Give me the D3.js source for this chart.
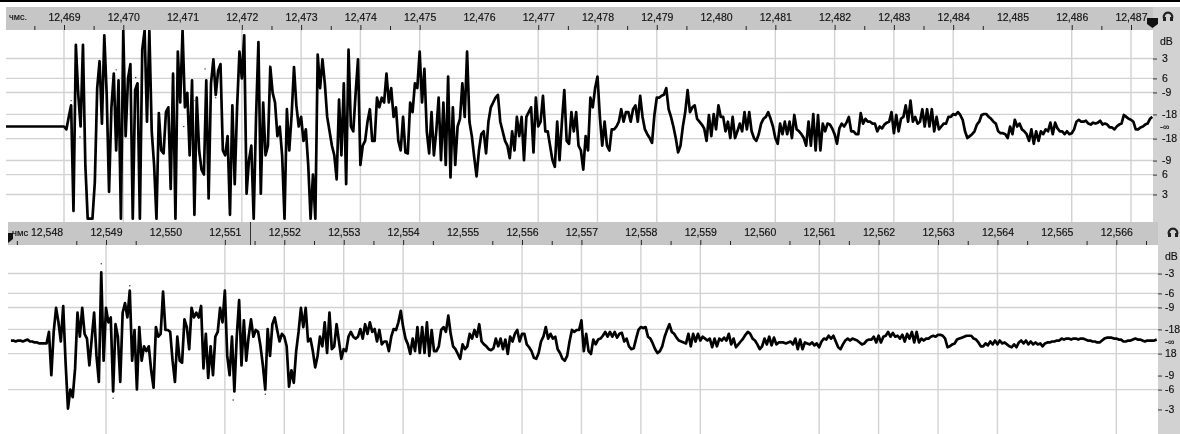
<!DOCTYPE html>
<html><head><meta charset="utf-8">
<style>html,body{margin:0;padding:0;background:#fff;overflow:hidden}svg{display:block;filter:blur(0.5px)}text{font-family:"Liberation Sans",sans-serif;font-size:10.5px;fill:#111;stroke:#111;stroke-width:0.15px}</style>
<script src="https://cdn.jsdelivr.net/npm/d3@7/dist/d3.min.js"></script>
</head><body>
<script>
// amplitude in percent of full scale, one sample every 0.04 ms, one row per ms
const sampleStep = 0.04;
const topStart = 12468;
const topSamples = [
0,0,0,0,0,0,0,0,0,0,0,0,0,0,0,0,0,0,0,0,0,0,0,0,0,
0,-3,10,22,-88,85,34,0,85,-40,-96,-96,-96,-58,40,68,3,95,34,-68,20,55,-25,48,-96,
100,-10,50,65,-96,38,45,-96,80,100,5,100,-5,-40,-96,14,-25,-28,15,20,-65,55,-96,78,25,
100,20,35,-30,48,-92,30,-25,-45,-50,48,-75,45,70,33,58,65,-25,-30,-10,-92,22,-60,20,78,
50,95,-70,-35,-20,-96,10,88,-70,25,-30,-20,62,35,25,-10,0,-30,-96,18,-25,12,62,22,0,
10,-15,-3,-40,-96,-50,-96,75,40,70,45,10,-5,-20,-30,-55,28,-30,45,-60,80,0,-5,35,70,
-40,-20,-15,5,18,-15,-15,30,20,30,25,55,25,40,10,20,-15,-25,10,-27,-28,25,15,45,40,
78,25,60,-5,-28,15,-30,-5,30,-35,25,-40,52,-53,20,-40,0,8,45,10,78,5,-10,-32,-52,
-25,-8,-5,-28,5,20,25,30,33,5,-5,-15,-20,-33,-5,-25,10,-10,10,-35,10,15,20,-27,30,
0,5,32,-5,-5,-20,-35,-42,5,-35,5,38,-15,-18,15,-5,15,-20,-25,-45,-10,-25,30,20,40,
52,10,-20,5,-20,-25,-3,-3,0,5,18,5,15,15,5,18,22,5,32,10,-3,-8,-12,-17,12,
30,30,32,33,40,18,10,0,-12,-27,-20,0,15,38,15,20,22,8,5,2,-2,-15,12,-10,13,
-3,22,10,10,-5,5,-12,10,-12,-5,3,-5,15,-3,15,-5,-12,-15,-8,3,8,10,15,8,0,
-12,-18,3,-8,5,-8,5,-12,12,-3,-5,-8,-12,-20,5,-20,13,-25,12,-25,3,-5,3,2,-2,
-8,-18,-2,3,0,4,10,-5,-5,-8,-8,14,3,8,5,5,3,3,-5,0,-2,2,4,5,15,
-7,12,-5,8,10,22,5,27,5,10,3,5,18,0,18,0,18,-5,10,-3,0,3,3,10,10,
13,12,15,12,7,-5,-12,-10,-8,-5,2,5,12,13,13,10,8,5,3,-5,-7,-7,-8,-12,0,
-8,7,0,3,-3,-5,-8,-15,-3,-18,-5,-15,-5,-8,-3,-5,4,-8,4,-2,-5,-5,-8,-5,-8,
-7,-3,5,7,5,5,6,3,2,4,3,4,6,2,3,2,-1,-1,-3,0,2,3,12,10,8,
7,5,-3,-3,-1,0,2,3,8,10
];
const bottomStart = 12547.4;
const bottomSamples = [
1,1,0,1,1,0,1,2,0,0,-1,-1,-2,-2,-2,
-2,10,-35,10,35,20,0,37,-22,-70,-50,-58,-28,30,5,35,8,3,-25,3,30,-15,-42,72,-20,
35,20,25,-52,18,5,-42,30,40,25,53,-20,12,-50,15,-20,-5,-10,-5,-30,-48,15,5,8,52,
12,12,10,-20,-42,5,-20,-22,23,15,-8,35,25,30,25,37,-28,8,-38,-5,-35,5,10,35,20,
53,-15,-35,5,-52,5,43,-25,22,-20,5,23,5,12,10,-5,-25,-50,13,-15,18,25,12,0,8,
5,-5,-47,-30,-43,-10,10,35,15,35,0,3,-10,-27,-15,5,-5,20,-12,30,-8,-5,18,0,-18,
-8,-10,5,10,5,3,5,13,3,18,8,20,10,13,0,12,-3,0,0,-10,5,13,12,20,32,
15,3,-3,-13,3,-10,15,-12,15,-12,20,-15,12,-10,-10,-5,12,15,10,27,8,-5,-8,-13,-18,
-3,-8,-5,8,3,12,5,18,0,-3,-5,-8,-9,-7,3,-5,3,-8,2,-13,5,0,8,12,0,
8,8,-3,-6,-10,-17,-18,-12,0,5,15,3,8,3,5,-8,-12,-18,-20,-15,0,12,10,12,12,
22,-10,8,-10,-13,2,-3,2,3,6,10,5,10,5,10,4,8,9,0,3,-5,-8,-7,3,12,
15,14,15,5,3,-2,-8,-12,-10,-5,5,12,18,10,8,4,1,0,-1,-2,8,-5,8,0,8,
1,5,3,1,3,-6,3,-5,3,1,4,1,8,-3,3,-6,-3,0,3,7,10,8,3,1,-3,
-8,-5,3,-3,5,-4,4,-3,-1,-1,-1,-2,-1,0,-3,3,-8,2,-8,-1,-2,-3,-1,-4,-2,
-6,0,3,2,6,3,6,0,-6,-8,-3,1,3,1,3,2,1,-1,-3,-2,1,2,2,5,-1,
6,-1,5,6,10,5,9,5,6,3,7,0,8,3,10,-1,10,-1,3,1,3,3,5,6,5,
7,7,6,3,-6,-5,-3,-2,2,3,4,5,6,6,6,3,2,-1,-5,-5,-2,-4,0,-3,1,
-3,1,-2,-1,-3,-5,-6,-3,-6,-1,1,-2,1,-3,0,-3,-1,-3,-2,-5,-2,-1,-1,0,0,
1,1,3,2,3,3,2,3,3,2,3,3,2,1,1,0,0,-1,-1,1,3,4,4,4,3,
3,2,2,0,0,1,1,2,3,2,2,1,0,1,1,1,1,2
];
const topSpeckMs = [12469.12,12469.88,12470.21,12471.38,12471.21,12471.56,12471.02,12469.27,12472.47];
const topSpeckAmp = [27,59,51,60,27,30,0,-11,63];
const bottomSpeckMs = [12548.92,12549.40,12549.12,12551.14,12551.68];
const bottomSpeckAmp = [81,58,-59,-61,-55];
const topTicksMs = d3.range(12469, 12488);
const bottomTicksMs = d3.range(12548, 12567);
const topGridMs = [12469,12470,12472,12473,12474,12475,12477,12478,12479,12481,12482,12483,12484,12486,12487];
const bottomGridMs = [12549,12551,12552,12553,12554,12556,12557,12558,12559,12561,12562,12563,12564,12566];
const topMinorMs = [12468.5,12469.5,12472.5,12473.5,12474.5,12477.5,12478.5,12479.5,12480.5,12482.5,12483.5,12484.5,12486.5];
const bottomMinorMs = [12547.5,12548.5,12549.5,12551.5,12552.5,12553.5,12554.5,12555.5,12556.5,12558.5,12559.5,12560.5,12561.5,12563.5,12564.5,12565.5,12566.5];
const topGridDb = [3,6,9,18,-18,-9,-6,-3];
const bottomGridDb = [3,6,9,18,-18,-6];
const axisDb = [3,6,9,18,-18,-9,-6,-3];
const topDbLabels = ["3","6","-9","-18","-18","-9","6","3"];
const bottomDbLabels = ["-3","-6","-9","-18","18","-9","-6","-3"];

const W=1180,H=434;
const svg=d3.select("body").append("svg").attr("width",W).attr("height",H);
const GRID="#d2d2d2",RULER="#c6c6c6",SIDE="#d2d2d2";
// signed dB label position to signed percent amplitude
const pct=d=>100*Math.pow(10,-Math.abs(d)/20)*(d>0?1:-1);
svg.append("rect").attr("width",W).attr("height",2).attr("fill","#000");

function panel(o){
  const x=d3.scaleLinear().domain([o.t0,o.t1]).range([o.x0,o.x1]);
  const y=d3.scaleLinear().domain([-100,100]).range([o.cy+96,o.cy-96]);
  const g=svg.append("g");
  g.append("rect").attr("x",o.side).attr("y",o.rulerTop).attr("width",W-o.side).attr("height",o.bottom-o.rulerTop).attr("fill",SIDE);
  g.append("rect").attr("x",o.left).attr("y",o.rulerTop).attr("width",o.side-o.left).attr("height",o.plotTop-o.rulerTop).attr("fill",RULER);
  g.selectAll(".h").data(o.gridDb).join("line")
    .attr("x1",o.left).attr("x2",o.side)
    .attr("y1",d=>y(pct(d))).attr("y2",d=>y(pct(d)))
    .attr("stroke",GRID).attr("stroke-width",1.4);
  g.selectAll(".v").data(o.gridMs).join("line")
    .attr("x1",d=>x(d)).attr("x2",d=>x(d)).attr("y1",o.plotTop).attr("y2",o.bottom)
    .attr("stroke",GRID).attr("stroke-width",1.4);
  const major=d3.axisTop(x).tickValues(o.gridMs).tickSize(5).tickFormat("");
  const minor=d3.axisTop(x).tickValues(o.minorMs).tickSize(4).tickFormat("");
  const labels=d3.axisTop(x).tickValues(o.ticksMs).tickSize(0).tickPadding(9).tickFormat(d=>d3.format(",")(d));
  [major,minor,labels].forEach(a=>{
    const s=g.append("g").attr("transform",`translate(0,${o.plotTop})`).call(a);
    s.select(".domain").remove();
    s.selectAll("line").attr("stroke","#222");
    s.selectAll("text").attr("font-size",null).attr("font-family",null).attr("fill",null);
  });
  const ra=d3.axisRight(y).tickValues(o.axisDb.map(pct)).tickSize(4).tickPadding(o.pad).tickFormat((d,i)=>o.dbLabels[i]);
  const rs=g.append("g").attr("transform",`translate(${o.side},0)`).call(ra);
  rs.select(".domain").remove();
  rs.selectAll("line").attr("stroke","#333");
  rs.selectAll("text").attr("font-size",null).attr("font-family",null).attr("fill",null);
  g.append("text").attr("x",o.side+7).attr("y",o.cy-85).attr("dy","0.32em").text("dB");
  g.append("text").attr("x",o.side+7).attr("y",o.cy+1).attr("dy","0.32em").style("font-size","9px").text("-∞");
  const clipId="c"+o.id;
  svg.append("clipPath").attr("id",clipId).append("rect").attr("x",o.left).attr("y",o.plotTop).attr("width",o.side-o.left).attr("height",o.bottom-o.plotTop);
  const line=d3.line().x((d,i)=>x(o.start+i*sampleStep)).y(d=>y(d)).curve(d3.curveLinear);
  svg.append("path").attr("clip-path",`url(#${clipId})`).datum(o.samples).attr("d",line).attr("fill","none").attr("stroke","#000").attr("stroke-width",2.7).attr("stroke-linejoin","round");
  svg.append("g").selectAll("circle").data(o.speckMs).join("circle")
    .attr("cx",d=>x(d)).attr("cy",(d,i)=>y(o.speckAmp[i])).attr("r",0.7).attr("fill","#222");
  const ic=o.icon;
  svg.append("path").attr("transform",`translate(${ic[0]},${ic[1]})`)
    .attr("d",d3.arc()({innerRadius:3.2,outerRadius:5.4,startAngle:-Math.PI/2-0.3,endAngle:Math.PI/2+0.3})).attr("fill","#222");
  svg.append("rect").attr("x",ic[0]-5).attr("y",ic[1]).attr("width",3).attr("height",4).attr("fill","#222");
  svg.append("rect").attr("x",ic[0]+2).attr("y",ic[1]).attr("width",3).attr("height",4).attr("fill","#222");
}
panel({id:1,t0:12469,t1:12487,x0:64,x1:1131,cy:126.5,left:6,side:1153,rulerTop:7,plotTop:30,bottom:222,pad:5,
  start:topStart,samples:topSamples,speckMs:topSpeckMs,speckAmp:topSpeckAmp,gridMs:topGridMs,gridDb:topGridDb,minorMs:topMinorMs,ticksMs:topTicksMs,axisDb,dbLabels:topDbLabels,icon:[1168,17]});
panel({id:2,t0:12549,t1:12566,x0:106,x1:1116.3,cy:341.5,left:8,side:1158,rulerTop:222,plotTop:245,bottom:434,pad:3,
  start:bottomStart,samples:bottomSamples,speckMs:bottomSpeckMs,speckAmp:bottomSpeckAmp,gridMs:bottomGridMs,gridDb:bottomGridDb,minorMs:bottomMinorMs,ticksMs:bottomTicksMs,axisDb,dbLabels:bottomDbLabels,icon:[1173,233]});
svg.append("text").attr("x",9).attr("y",20).style("font-size","9px").text("чмс.");
svg.append("text").attr("x",12).attr("y",235.5).style("font-size","9.5px").text("чмс");
svg.append("path").attr("d","M1147 18h11v6l-5.5 4l-5.5-4z").attr("fill","#111");
svg.append("path").attr("d","M8 233h5v6l-5 4z").attr("fill","#111");
svg.append("line").attr("x1",250.5).attr("x2",250.5).attr("y1",222).attr("y2",245).attr("stroke","#333");
</script>
</body></html>
